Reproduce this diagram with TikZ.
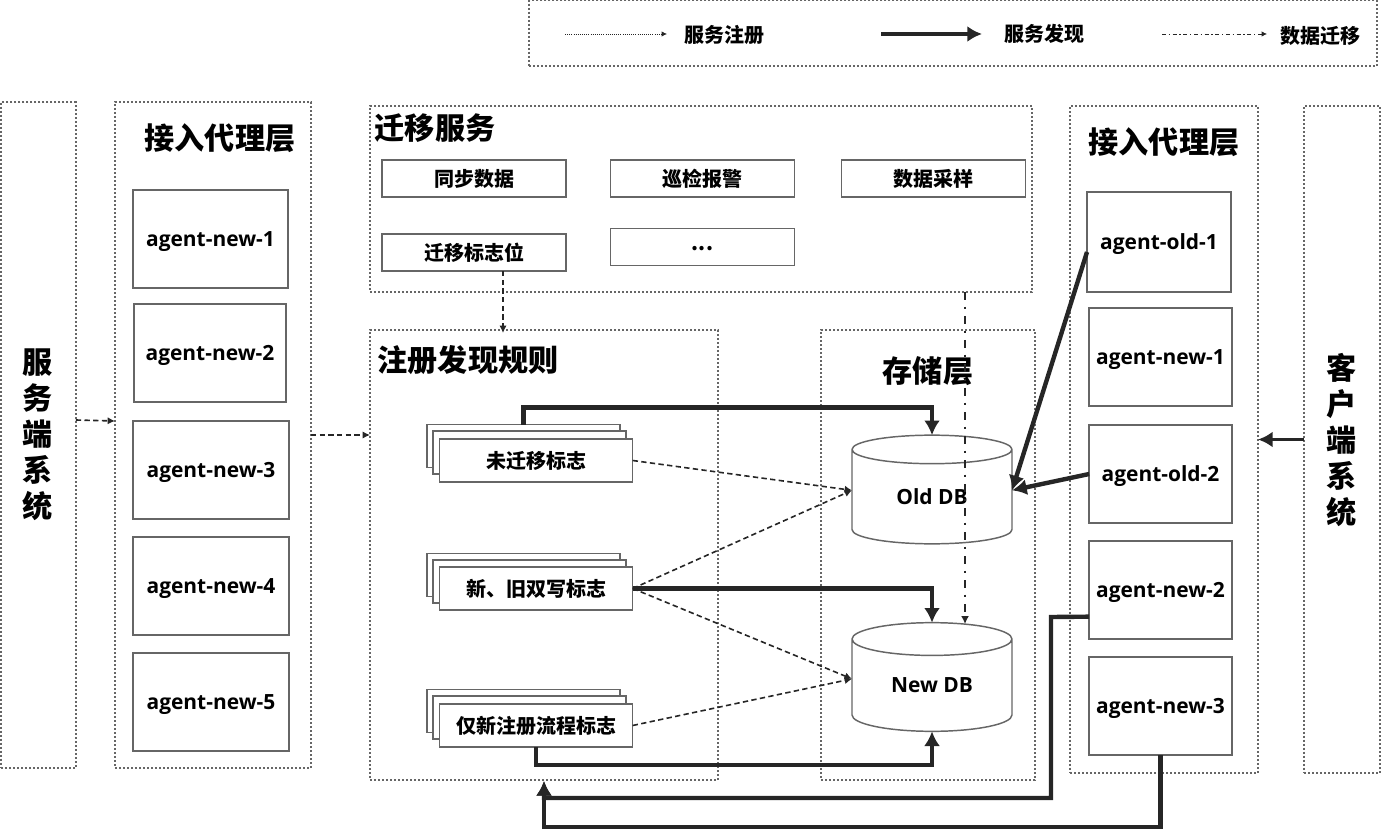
\documentclass[tikz,border=0pt]{standalone}
\usepackage{fontspec}
\setmainfont{Open Sans}
\newfontfamily\cjk{Noto Sans CJK SC}
\usetikzlibrary{arrows.meta,shapes.geometric}
\definecolor{ink}{HTML}{262626}
\definecolor{edge}{HTML}{666666}
\begin{document}
\begin{tikzpicture}[
  x = 0.75pt,
  y = -0.75pt,
  panel/.style = {
    draw = edge,
    line width = 1pt,
    dash pattern = on 1.5pt off 1.5pt,
    inner sep = 0pt,
    outer sep = 0pt
  },
  solidbox/.style = {
    draw = edge,
    fill = white,
    line width = 1.1pt,
    inner sep = 0pt,
    outer sep = 0pt,
    text = black
  },
  agent/.style = {
    solidbox,
    text depth = 0pt,
    font = \fontsize{15.7}{18}\selectfont\bfseries
  },
  task/.style = {
    solidbox,
    minimum width = 138pt,
    minimum height = 28pt,
    font = \fontsize{15}{18}\selectfont\cjk\bfseries
  },
  flag/.style = {
    solidbox,
    minimum width = 145pt,
    minimum height = 32pt,
    font = \fontsize{15}{18}\selectfont\cjk\bfseries
  },
  heading/.style = {
    inner sep = 0pt,
    font = \fontsize{22.6}{24}\selectfont\cjk\bfseries
  },
  legendtext/.style = {
    inner sep = 0pt,
    font = \fontsize{15}{18}\selectfont\cjk\bfseries
  },
  store/.style = {
    cylinder,
    anchor = shape center,
    shape border rotate = 90,
    shape aspect = 0.4,
    draw = edge,
    fill = white,
    line width = 1.1pt,
    minimum width = 120pt,
    minimum height = 81.5pt,
    inner sep = 0pt,
    outer sep = 0pt,
    font = \fontsize{15.7}{18}\selectfont\bfseries
  },
  register/.style = {
    draw = ink,
    line width = 1.2pt,
    dash pattern = on 4pt off 2.5pt,
    -{Latex[length = 5.5pt, width = 5.5pt]}
  },
  discover/.style = {
    draw = ink,
    line width = 3.3pt,
    -{Latex[length = 11pt, width = 12pt]}
  },
  migrate/.style = {
    draw = ink,
    line width = 1.5pt,
    dash pattern = on 6pt off 5pt on 2pt off 5pt,
    -{Latex[length = 6pt, width = 6pt]}
  }
]
  \useasboundingbox (0, 0) rectangle (1381, 830);

  % legend
  \node[panel, minimum width = 636pt, minimum height = 49pt] (legend) at (953, 33.5) {};
  \coordinate (regFrom) at (565, 34);
  \coordinate (regTo) at (667, 34);
  \coordinate (disFrom) at (881, 34);
  \coordinate (disTo) at (982, 34);
  \coordinate (migFrom) at (1162, 34);
  \coordinate (migTo) at (1267, 34);
  \draw[draw = ink, line width = 0.6pt, densely dotted, -{Latex[length = 4pt, width = 4pt]}] (regFrom) -- (regTo);
  \draw[discover] (disFrom) -- (disTo);
  \draw[draw = ink, line width = 0.6pt, dash pattern = on 3pt off 2pt on 1pt off 2pt, -{Latex[length = 4pt, width = 4pt]}] (migFrom) -- (migTo);
  \node[legendtext] (regText) at (724, 35) {服务注册};
  \node[legendtext] (disText) at (1044, 34) {服务发现};
  \node[legendtext] (migText) at (1320, 36) {数据迁移};

  % dotted panels
  \node[panel, minimum width = 56pt, minimum height = 499.5pt] (server) at (38.5, 435) {};
  \node[panel, minimum width = 147pt, minimum height = 499.5pt] (proxyL) at (213, 435) {};
  \node[panel, minimum width = 496.5pt, minimum height = 139.5pt] (service) at (701, 199) {};
  \node[panel, minimum width = 261pt, minimum height = 337.5pt] (rules) at (544, 555) {};
  \node[panel, minimum width = 160.5pt, minimum height = 337.5pt] (storage) at (928, 555) {};
  \node[panel, minimum width = 141pt, minimum height = 500pt] (proxyR) at (1164, 439.5) {};
  \node[panel, minimum width = 57pt, minimum height = 500pt] (client) at (1342, 439.5) {};

  % headings
  \node[inner sep = 0pt, align = center, font = \fontsize{22.6}{27}\selectfont\cjk\bfseries] (serverText) at (38, 435) {服\\务\\端\\系\\统};
  \node[inner sep = 0pt, align = center, font = \fontsize{22.6}{27}\selectfont\cjk\bfseries] (clientText) at (1342, 440) {客\\户\\端\\系\\统};
  \node[heading] (proxyLText) at (220, 138) {接入代理层};
  \node[heading] (proxyRText) at (1164, 142) {接入代理层};
  \node[heading] (serviceText) at (435, 128) {迁移服务};
  \node[heading] (rulesText) at (468, 360) {注册发现规则};
  \node[heading] (storageText) at (928, 371) {存储层};

  % left agents
  \node[agent, minimum width = 116pt, minimum height = 73.5pt] (leftA) at (210.5, 239) {agent-new-1};
  \node[agent, minimum width = 114pt, minimum height = 73.5pt] (leftB) at (210, 353) {agent-new-2};
  \node[agent, minimum width = 117pt, minimum height = 73.5pt] (leftC) at (211, 470) {agent-new-3};
  \node[agent, minimum width = 117pt, minimum height = 73.5pt] (leftD) at (211, 586) {agent-new-4};
  \node[agent, minimum width = 117pt, minimum height = 73.5pt] (leftE) at (211, 702) {agent-new-5};

  % right agents
  \node[agent, minimum width = 108pt, minimum height = 75pt] (oldA) at (1159, 242) {agent-old-1};
  \node[agent, minimum width = 107pt, minimum height = 73.5pt] (rightA) at (1160.5, 357) {agent-new-1};
  \node[agent, minimum width = 107pt, minimum height = 73.5pt] (oldB) at (1160.5, 474) {agent-old-2};
  \node[agent, minimum width = 107pt, minimum height = 73.5pt] (rightB) at (1160.5, 590) {agent-new-2};
  \node[agent, minimum width = 107pt, minimum height = 73.5pt] (rightC) at (1160.5, 706) {agent-new-3};

  % service tasks
  \node[task] (syncData) at (474, 178.5) {同步数据};
  \node[task] (patrol) at (702.5, 178.5) {巡检报警};
  \node[task] (sample) at (933.5, 178.5) {数据采样};
  \node[task] (migFlag) at (474, 252.5) {迁移标志位};
  \node[task, text height = 6pt, text depth = 0pt] (more) at (702.5, 247) {...};

  % flags
  \node[flag] (oldFlagA) at (523.5, 446) {};
  \node[flag] (oldFlagB) at (529.5, 452.5) {};
  \node[flag] (oldFlagC) at (536, 460.5) {未迁移标志};
  \node[flag] (dualFlagA) at (523.5, 575) {};
  \node[flag] (dualFlagB) at (529.5, 581.5) {};
  \node[flag] (dualFlagC) at (536, 588.5) {新、旧双写标志};
  \node[flag] (newFlagA) at (523.5, 711) {};
  \node[flag] (newFlagB) at (529.5, 717.5) {};
  \node[flag] (newFlagC) at (536, 725.5) {仅新注册流程标志};

  % databases
  \node[store] (oldDb) at (932, 489.5) {Old DB};
  \node[store] (newDb) at (932, 677) {New DB};

  % registration
  \draw[register] (server.east |- 0, 420) -- (proxyL.west |- 0, 421);
  \draw[register] (proxyL.east) -- (rules.west |- proxyL.east);
  \draw[register] (migFlag.south -| 503, 0) -- (503, 333);
  \draw[register] (oldFlagC.east) -- ([yshift = 5pt]oldDb.west);
  \draw[register] (dualFlagC.east) -- ([yshift = 5pt]oldDb.west);
  \draw[register] (dualFlagC.east) -- ([yshift = 5pt]newDb.west);
  \draw[register] (newFlagC.east) -- ([yshift = 5pt]newDb.west);

  % discovery
  \coordinate (turnHigh) at (1051, 617);
  \coordinate (busHigh) at (544, 798);
  \coordinate (busLow) at (544, 827);
  \coordinate (rulesIn) at (544, 781);
  \draw[discover] (oldFlagA.north) -- ++(0, -17) -| (oldDb.north);
  \draw[discover] (dualFlagC.east) -| (newDb.north);
  \draw[discover] (newFlagC.south) -- ++(0, 18) -| (newDb.south);
  \draw[discover] ([yshift = -7.5pt]oldA.west) -- ([yshift = 5pt]oldDb.east);
  \draw[discover] (oldB.west) -- ([yshift = 5pt]oldDb.east);
  \draw[discover, line width = 2.6pt] (client.west) -- (proxyR.east);
  \draw[discover] ([yshift = -20pt]rightB.west) -- (turnHigh) |- (busHigh) -- (rulesIn);
  \draw[discover] (rightC.south) |- (busLow) -- (rulesIn);

  % migration
  \coordinate (migOut) at (965, 292);
  \coordinate (migIn) at (965, 624);
  \draw[migrate] (migOut) -- (migIn);
\end{tikzpicture}
\end{document}
